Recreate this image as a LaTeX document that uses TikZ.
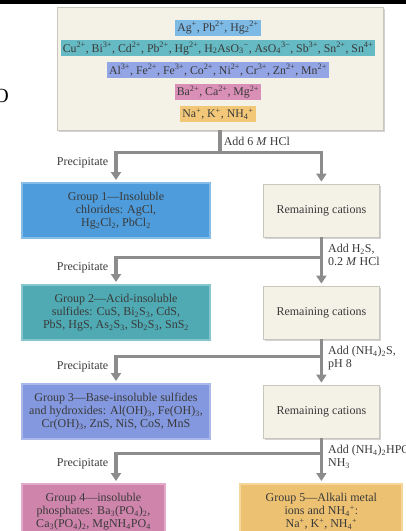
\documentclass[tikz,border=0pt]{standalone}
\usepackage{fontspec}
\setmainfont{Liberation Serif}
\usetikzlibrary{positioning, arrows.meta, shadows}

\definecolor{inkgray}{HTML}{3A3A3A}
\definecolor{paper}{HTML}{F4F1E7}
\definecolor{paperedge}{HTML}{C9C6BE}
\definecolor{pipegray}{HTML}{8C8C8C}
\definecolor{bandblue}{HTML}{7DBAE6}
\definecolor{bandteal}{HTML}{66BAC3}
\definecolor{bandviolet}{HTML}{93A5E4}
\definecolor{bandpink}{HTML}{DA8FB6}
\definecolor{bandgold}{HTML}{F2C878}
\definecolor{gonefill}{HTML}{4E9CDB}
\definecolor{goneedge}{HTML}{85BDE9}
\definecolor{gtwofill}{HTML}{4FAAB3}
\definecolor{gtwoedge}{HTML}{84C6CC}
\definecolor{gthreefill}{HTML}{8398DE}
\definecolor{gthreeedge}{HTML}{AAB8EA}
\definecolor{gfourfill}{HTML}{CF84AC}
\definecolor{gfouredge}{HTML}{E2AAC8}
\definecolor{gfivefill}{HTML}{EDC172}
\definecolor{gfiveedge}{HTML}{F6D79B}

\newcommand{\sps}[1]{\textsuperscript{#1}}
\newcommand{\sbs}[1]{\textsubscript{#1}}

\begin{document}
\begin{tikzpicture}[
        x=1pt, y=1pt,
        font=\fontsize{12}{13}\selectfont,
        text=inkgray,
        band/.style={rectangle, inner xsep=2pt, inner ysep=0pt, minimum height=16pt, font=\fontsize{11.8}{13}\selectfont},
        panel/.style={rectangle, fill=paper, draw=paperedge, line width=0.8pt, drop shadow={shadow xshift=2pt, shadow yshift=-2pt, fill=black!35}},
        group/.style={rectangle, line width=2pt, minimum width=188pt, minimum height=55pt, align=center, inner sep=2pt},
        rest/.style={panel, minimum width=116pt, minimum height=53pt},
        pipe/.style={draw=pipegray, line width=3.5pt},
        arrow/.style={pipe, -{Triangle[width=10pt, length=8pt]}, shorten >=2pt},
        note/.style={align=left, inner sep=2pt}
        ]
        \useasboundingbox (0,0) rectangle (406,-531);
        \fill[black] (0,0) rectangle (406,-4);
        \node[anchor=east, inner sep=0pt, text=black, font=\fontsize{20}{20}\selectfont] (cut) at (9,-96) {O};

        % cations in the sample
        \node[panel, minimum width=326pt, minimum height=123pt] (ions) at (220,-68.5) {};
        \node[band, fill=bandblue] (b1) at (218,-27.5) {Ag\sps{+}, Pb\sps{2+}, Hg\sbs{2}\sps{2+}};
        \node[band, fill=bandteal, below=4.5pt of b1] (b2) {Cu\sps{2+}, Bi\sps{3+}, Cd\sps{2+}, Pb\sps{2+}, Hg\sps{2+}, H\sbs{2}AsO\sbs{3}\sps{−}, AsO\sbs{4}\sps{3−}, Sb\sps{3+}, Sn\sps{2+}, Sn\sps{4+}};
        \node[band, fill=bandviolet, below=5.5pt of b2] (b3) {Al\sps{3+}, Fe\sps{2+}, Fe\sps{3+}, Co\sps{2+}, Ni\sps{2+}, Cr\sps{3+}, Zn\sps{2+}, Mn\sps{2+}};
        \node[band, fill=bandpink, below=5.5pt of b3] (b4) {Ba\sps{2+}, Ca\sps{2+}, Mg\sps{2+}};
        \node[band, fill=bandgold, below=5.5pt of b4] (b5) {Na\sps{+}, K\sps{+}, NH\sbs{4}\sps{+}};

        % precipitated groups
        \node[group, fill=gonefill, draw=goneedge] (g1) at (116,-210.5) {Group 1—Insoluble\\chlorides: AgCl,\\Hg\sbs{2}Cl\sbs{2}, PbCl\sbs{2}};
        \node[group, fill=gtwofill, draw=gtwoedge, below=45pt of g1] (g2) {Group 2—Acid-insoluble\\sulfides: CuS, Bi\sbs{2}S\sbs{3}, CdS,\\PbS, HgS, As\sbs{2}S\sbs{3}, Sb\sbs{2}S\sbs{3}, SnS\sbs{2}};
        \node[group, fill=gthreefill, draw=gthreeedge, below=42pt of g2] (g3) {Group 3—Base-insoluble sulfides\\and hydroxides: Al(OH)\sbs{3}, Fe(OH)\sbs{3},\\Cr(OH)\sbs{3}, ZnS, NiS, CoS, MnS};
        \node[group, fill=gfourfill, draw=gfouredge, minimum width=143pt, below=43pt of g3.south west, anchor=north west] (g4) {Group 4—insoluble\\phosphates: Ba\sbs{3}(PO\sbs{4})\sbs{2},\\Ca\sbs{3}(PO\sbs{4})\sbs{2}, MgNH\sbs{4}PO\sbs{4}};

        % what stays in solution
        \node[rest, right=52pt of g1] (r1) {Remaining cations};
        \node[rest, right=52pt of g2] (r2) {Remaining cations};
        \node[rest, right=52pt of g3] (r3) {Remaining cations};
        \node[group, fill=gfivefill, draw=gfiveedge, minimum width=162pt, anchor=north] (g5) at (g4.north -| r3.south) {Group 5—Alkali metal\\ions and NH\sbs{4}\sps{+}:\\Na\sps{+}, K\sps{+}, NH\sbs{4}\sps{+}};

        \coordinate[below=22pt of ions] (j1);
        \coordinate[below=20pt of r1] (j2);
        \coordinate[below=17pt of r2] (j3);
        \coordinate[below=15pt of r3] (j4);

        \draw[pipe] (ions) -- node[note, anchor=west] {Add 6 \textit{M} HCl} (j1);
        \draw[arrow] (j1) -| node[note, pos=0.5, anchor=north east, xshift=-4pt, yshift=-1pt] {Precipitate} (g1);
        \draw[arrow] (j1) -| (r1);

        \draw[pipe] (r1) -- node[note, pos=0, anchor=north west, xshift=3pt, yshift=-3pt] {Add H\sbs{2}S,\\0.2 \textit{M} HCl} (j2);
        \draw[arrow] (j2) -| node[note, pos=0.5, anchor=north east, xshift=-4pt, yshift=-1pt] {Precipitate} (g2);
        \draw[arrow] (j2) -- (r2);

        \draw[pipe] (r2) -- node[note, pos=0, anchor=north west, xshift=3pt, yshift=-3pt] {Add (NH\sbs{4})\sbs{2}S,\\pH 8} (j3);
        \draw[arrow] (j3) -| node[note, pos=0.5, anchor=north east, xshift=-4pt, yshift=-1pt] {Precipitate} (g3);
        \draw[arrow] (j3) -- (r3);

        \draw[pipe] (r3) -- node[note, pos=0, anchor=north west, xshift=3pt, yshift=-3pt] {Add (NH\sbs{4})\sbs{2}HPO\sbs{4},\\NH\sbs{3}} (j4);
        \draw[arrow] (j4) -| node[note, pos=0.5, anchor=north east, xshift=-4pt, yshift=-1pt] {Precipitate} (g4.north -| g3.south);
        \draw[arrow] (j4) -- (j4 |- g5.north);
    \end{tikzpicture}
\end{document}
